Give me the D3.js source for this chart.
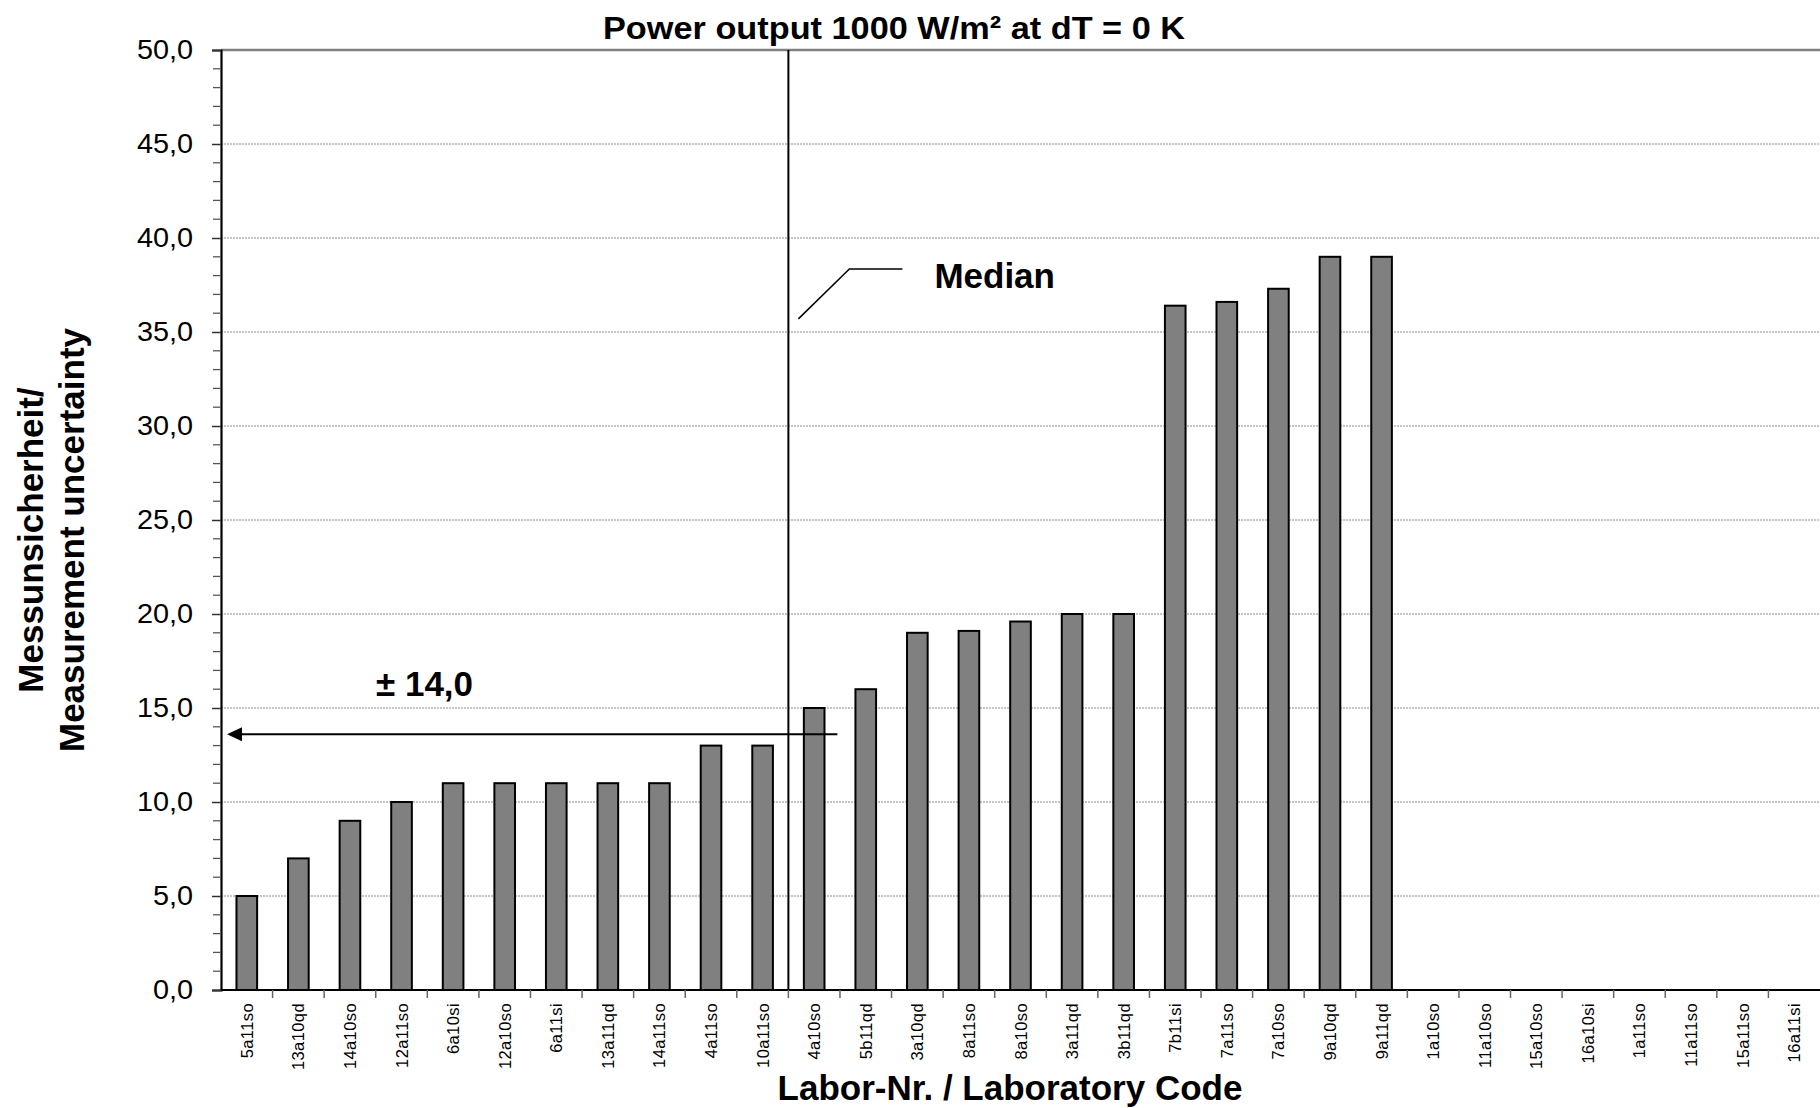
<!DOCTYPE html>
<html>
<head>
<meta charset="utf-8">
<script src="https://cdn.jsdelivr.net/npm/d3@7"></script>
<style>
  html, body { margin: 0; padding: 0; background: #fff; }
  svg { display: block; font-family: "Liberation Sans", Arial, sans-serif; }
</style>
</head>
<body>
<svg id="chart" width="1820" height="1108"></svg>
<script>
// ---- data ----
const categories = ["5a11so","13a10qd","14a10so","12a11so","6a10si","12a10so","6a11si","13a11qd","14a11so","4a11so","10a11so","4a10so","5b11qd","3a10qd","8a11so","8a10so","3a11qd","3b11qd","7b11si","7a11so","7a10so","9a10qd","9a11qd","1a10so","11a10so","15a10so","16a10si","1a11so","11a11so","15a11so","16a11si"];
const values = [5,7,9,10,11,11,11,11,11,13,13,15,16,19,19.1,19.6,20,20,36.4,36.6,37.3,39,39,null,null,null,null,null,null,null,null];
const yTicks = [0,5,10,15,20,25,30,35,40,45,50];
const titleText = "Power output 1000 W/m² at dT = 0 K";
const yTitleLines = ["Messunsicherheit/", "Measurement uncertainty"];
const xTitleText = "Labor-Nr. / Laboratory Code";
const medianIndex = 11;          // median line drawn before this category
const uncertaintyLabel = "± 14,0";
const uncertaintyArrowValue = 13.6;
const medianLabel = "Median";
const medianCalloutValues = [35.7, 38.35]; // y-values of callout leader ends

// ---- layout ----
const svg = d3.select("#chart");
const mLeft = 221, mRight = 1820, mTop = 50, mBottom = 990;

const x = d3.scaleBand().domain(categories).range([mLeft, mRight]).padding(0);
const y = d3.scaleLinear().domain([0, 50]).range([mBottom, mTop]);
const bw = x.bandwidth();
const barW = bw * 0.40;
const fmt = v => d3.format(".1f")(v).replace(".", ",");

// gridlines
svg.append("g").selectAll("line")
  .data(yTicks.filter(t => t > 0 && t < 50))
  .join("line")
  .attr("x1", mLeft).attr("x2", mRight)
  .attr("y1", d => y(d)).attr("y2", d => y(d))
  .attr("stroke", "#8a8a8a").attr("stroke-width", 1)
  .attr("stroke-dasharray", "2,1");

// top border
svg.append("line")
  .attr("x1", mLeft).attr("x2", mRight).attr("y1", y(50)).attr("y2", y(50))
  .attr("stroke", "#808080").attr("stroke-width", 2.5);

// bars
svg.append("g").selectAll("rect")
  .data(categories.map((c, i) => ({c, v: values[i]})).filter(d => d.v != null))
  .join("rect")
  .attr("x", d => x(d.c) + (bw - barW) / 2)
  .attr("y", d => y(d.v))
  .attr("width", barW)
  .attr("height", d => y(0) - y(d.v))
  .attr("fill", "#808080")
  .attr("stroke", "#000").attr("stroke-width", 2);

// y axis
const yAxis = d3.axisLeft(y).tickValues(yTicks).tickFormat(fmt).tickSize(9).tickPadding(12);
const gy = svg.append("g").attr("transform", `translate(${mLeft},0)`).call(yAxis);
gy.select(".domain").attr("stroke", "#000").attr("stroke-width", 2.2);
gy.selectAll(".tick line").attr("stroke", "#333").attr("stroke-width", 1.5);
gy.selectAll(".tick text")
  .attr("font-size", 28).attr("fill", "#000")
  .attr("font-family", "'Liberation Sans', Arial, sans-serif")
  .attr("x", 0).attr("transform", "translate(-28,0) scale(1.03,1)");
// minor ticks
const minor = d3.range(0, 51, 1).filter(v => v % 5 !== 0);
svg.append("g").selectAll("line").data(minor).join("line")
  .attr("x1", mLeft - 8).attr("x2", mLeft)
  .attr("y1", d => y(d)).attr("y2", d => y(d))
  .attr("stroke", "#555").attr("stroke-width", 1.3);

// x axis
svg.append("line").attr("x1", mLeft).attr("x2", mRight).attr("y1", mBottom).attr("y2", mBottom)
  .attr("stroke", "#000").attr("stroke-width", 2.2);
svg.append("g").selectAll("line")
  .data(categories.slice(1))
  .join("line")
  .attr("x1", d => x(d)).attr("x2", d => x(d))
  .attr("y1", mBottom).attr("y2", mBottom + 8)
  .attr("stroke", "#666").attr("stroke-width", 1.5);

// x labels (rotated)
svg.append("g").selectAll("text")
  .data(categories)
  .join("text")
  .attr("transform", d => `translate(${x(d) + bw / 2 + 6},1003) rotate(-90)`)
  .attr("text-anchor", "end")
  .attr("font-size", 16.5)
  .attr("letter-spacing", 0.4)
  .attr("fill", "#000")
  .text(d => d);

// median line
const mx = x(categories[medianIndex]);
svg.append("line")
  .attr("x1", mx).attr("x2", mx).attr("y1", y(50)).attr("y2", y(0))
  .attr("stroke", "#000").attr("stroke-width", 2);

// median callout
svg.append("polyline")
  .attr("points", [[mx + 10, y(medianCalloutValues[0])], [mx + 61, y(medianCalloutValues[1])], [mx + 114, y(medianCalloutValues[1])]].map(p => p.join(",")).join(" "))
  .attr("fill", "none").attr("stroke", "#000").attr("stroke-width", 1.5);
svg.append("text")
  .attr("x", mx + 146).attr("y", 288)
  .attr("font-size", 35).attr("font-weight", "bold").attr("fill", "#000")
  .text(medianLabel);

// uncertainty arrow
const ay = y(uncertaintyArrowValue);
svg.append("line")
  .attr("x1", mLeft + 18).attr("x2", mx + 49).attr("y1", ay).attr("y2", ay)
  .attr("stroke", "#000").attr("stroke-width", 2);
svg.append("path")
  .attr("d", `M${mLeft + 6},${ay} L${mLeft + 21},${ay - 7} L${mLeft + 21},${ay + 7} Z`)
  .attr("fill", "#000");
svg.append("text")
  .attr("x", 376).attr("y", 696)
  .attr("font-size", 35).attr("font-weight", "bold").attr("fill", "#000")
  .text(uncertaintyLabel);

// title
svg.append("text")
  .attr("x", 603).attr("y", 39)
  .attr("font-size", 32).attr("font-weight", "bold").attr("fill", "#000")
  .attr("textLength", 582).attr("lengthAdjust", "spacingAndGlyphs")
  .text(titleText);

// x title
svg.append("text")
  .attr("x", 1010).attr("y", 1100)
  .attr("text-anchor", "middle")
  .attr("font-size", 35).attr("font-weight", "bold").attr("fill", "#000")
  .text(xTitleText);

// y title
const yt = svg.append("text")
  .attr("transform", "translate(0,540) rotate(-90)")
  .attr("text-anchor", "middle")
  .attr("font-size", 35).attr("font-weight", "bold").attr("fill", "#000");
yTitleLines.forEach((l, i) => {
  yt.append("tspan").attr("x", 0).attr("y", 43 + i * 41).text(l);
});
</script>
</body>
</html>
